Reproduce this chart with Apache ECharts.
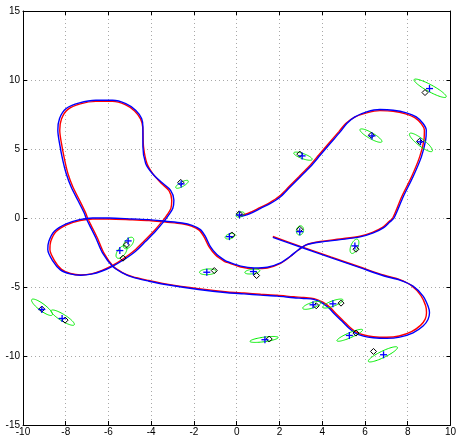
<!DOCTYPE html>
<html>
<head>
<meta charset="utf-8">
<script src="https://cdn.jsdelivr.net/npm/echarts@6/dist/echarts.min.js"></script>
<style>html,body{margin:0;padding:0;background:#fff;}#c{width:459px;height:437px;}</style>
</head>
<body>
<div id="c"></div>
<script>
// Estimated trajectory (blue)
var blueTrack = [[1.69,-1.40],[2.98,-2.10],[4.40,-2.87],[5.77,-3.60],[6.90,-4.20],[7.63,-4.50],[8.25,-4.94],[8.72,-5.66],[8.95,-6.38],[9.02,-6.87],[8.95,-7.35],[8.72,-7.83],[8.25,-8.32],[7.63,-8.63],[7.01,-8.72],[6.39,-8.68],[5.93,-8.56],[5.53,-8.32],[5.23,-7.95],[4.92,-7.47],[4.60,-6.99],[4.30,-6.51],[3.99,-6.15],[3.60,-5.90],[3.13,-5.83],[2.67,-5.78],[1.89,-5.66],[1.12,-5.59],[0.34,-5.50],[-0.43,-5.42],[-1.78,-5.18],[-3.33,-4.82],[-4.10,-4.58],[-4.88,-4.29],[-5.35,-3.98],[-5.81,-3.50],[-6.28,-2.53],[-6.59,-1.45],[-6.90,-0.48],[-7.05,0.0],[-7.13,0.34],[-7.44,1.30],[-7.75,2.27],[-7.98,3.23],[-8.14,4.19],[-8.29,5.40],[-8.37,6.36],[-8.29,7.21],[-7.98,7.93],[-7.36,8.34],[-6.59,8.53],[-5.81,8.53],[-5.19,8.29],[-4.73,7.81],[-4.45,7.21],[-4.39,6.60],[-4.39,5.16],[-4.26,3.95],[-3.95,3.23],[-3.49,2.55],[-3.10,2.02],[-2.94,1.30],[-2.99,0.70],[-3.18,0.22],[-3.33,-0.10],[-3.80,-0.96],[-4.26,-1.69],[-4.73,-2.41],[-5.27,-3.01],[-5.81,-3.50],[-6.30,-3.84],[-6.80,-4.07],[-7.30,-4.15],[-7.80,-4.05],[-8.25,-3.76],[-8.60,-3.13],[-8.84,-2.29],[-8.79,-1.69],[-8.53,-0.96],[-7.98,-0.43],[-7.36,-0.12],[-6.74,0.0],[-5.97,0.0],[-4.88,-0.07],[-4.10,-0.12],[-3.33,-0.24],[-2.56,-0.36],[-2.09,-0.53],[-1.70,-0.84],[-1.47,-1.33],[-1.24,-2.05],[-0.93,-2.65],[-0.54,-3.09],[-0.42,-3.17],[0.19,-3.49],[0.81,-3.62],[1.43,-3.57],[2.05,-3.25],[2.51,-2.77],[2.90,-2.29],[3.29,-1.93],[3.91,-1.74],[4.84,-1.57],[5.77,-1.37],[6.39,-1.08],[6.86,-0.72],[7.16,-0.29],[7.36,0.0],[7.79,1.54],[8.25,2.99],[8.64,4.43],[8.84,5.64],[8.87,6.36],[8.72,6.85],[8.40,7.33],[7.94,7.62],[7.32,7.81],[6.70,7.86],[6.08,7.69],[5.53,7.33],[5.15,6.85],[4.84,6.24],[4.37,5.40],[3.91,4.56],[3.44,3.71],[2.98,2.99],[2.51,2.26],[2.05,1.54],[1.58,1.06],[1.12,0.70],[0.65,0.34],[0.19,0.10]];

// True trajectory (red)
var redTrack = [[1.69,-1.34],[2.98,-2.05],[4.40,-2.82],[5.77,-3.55],[6.90,-4.15],[7.60,-4.45],[8.18,-4.90],[8.62,-5.62],[8.84,-6.36],[8.88,-6.87],[8.82,-7.33],[8.60,-7.78],[8.18,-8.24],[7.60,-8.55],[7.01,-8.64],[6.39,-8.60],[5.95,-8.48],[5.57,-8.25],[5.28,-7.90],[4.97,-7.42],[4.65,-6.94],[4.35,-6.46],[4.03,-6.10],[3.62,-5.84],[3.13,-5.76],[2.67,-5.71],[1.89,-5.60],[1.12,-5.53],[0.34,-5.44],[-0.43,-5.36],[-1.78,-5.12],[-3.33,-4.77],[-4.10,-4.53],[-4.88,-4.25],[-5.35,-3.95],[-5.78,-3.50],[-6.22,-2.53],[-6.52,-1.45],[-6.83,-0.48],[-6.98,0.0],[-7.06,0.34],[-7.36,1.30],[-7.67,2.27],[-7.90,3.23],[-8.05,4.19],[-8.20,5.40],[-8.28,6.36],[-8.20,7.18],[-7.90,7.87],[-7.32,8.27],[-6.59,8.45],[-5.81,8.45],[-5.22,8.22],[-4.78,7.76],[-4.50,7.18],[-4.40,6.60],[-4.36,5.16],[-4.20,3.95],[-3.92,3.20],[-3.52,2.50],[-3.17,1.98],[-3.04,1.30],[-3.08,0.70],[-3.26,0.22],[-3.40,-0.08],[-3.86,-0.92],[-4.32,-1.64],[-4.79,-2.36],[-5.31,-2.96],[-5.81,-3.44],[-6.30,-3.80],[-6.80,-4.05],[-7.30,-4.13],[-7.78,-4.02],[-8.20,-3.72],[-8.52,-3.10],[-8.74,-2.29],[-8.70,-1.69],[-8.45,-0.98],[-7.93,-0.48],[-7.33,-0.18],[-6.74,-0.07],[-5.97,-0.07],[-4.88,-0.13],[-4.10,-0.18],[-3.33,-0.30],[-2.56,-0.42],[-2.12,-0.59],[-1.76,-0.88],[-1.53,-1.36],[-1.30,-2.07],[-0.98,-2.70],[-0.56,-3.16],[-0.45,-3.22],[0.19,-3.55],[0.81,-3.67],[1.43,-3.62],[2.05,-3.28],[2.51,-2.79],[2.90,-2.30],[3.29,-1.92],[3.91,-1.70],[4.84,-1.52],[5.77,-1.32],[6.35,-1.04],[6.80,-0.70],[7.10,-0.29],[7.30,0.0],[7.72,1.54],[8.18,2.99],[8.56,4.43],[8.76,5.64],[8.78,6.36],[8.64,6.82],[8.33,7.27],[7.90,7.55],[7.32,7.74],[6.70,7.78],[6.08,7.62],[5.50,7.30],[5.10,6.85],[4.78,6.26],[4.31,5.42],[3.85,4.58],[3.38,3.73],[2.92,3.01],[2.45,2.28],[1.99,1.57],[1.53,1.10],[1.08,0.75],[0.62,0.40],[0.17,0.16]];

// Landmark uncertainty ellipses: [centerX, centerY, majorHalfDx, majorHalfDy, minor/major ratio]
var ellipses = [[-2.56,2.44,0.29,0.25,0.32],[0.16,0.25,0.19,0.11,0.53],[3.10,4.48,0.43,-0.24,0.26],[6.28,5.97,0.51,-0.45,0.24],[8.62,5.48,0.53,-0.64,0.25],[9.05,9.40,0.75,-0.63,0.19],[-9.11,-6.47,0.48,-0.56,0.27],[-8.14,-7.22,0.54,-0.52,0.24],[-5.39,-2.46,0.21,0.43,0.53],[-5.06,-1.81,0.20,0.38,0.55],[-1.35,-3.90,0.39,0.04,0.34],[-0.31,-1.32,0.23,0.11,0.48],[2.96,-0.90,0.05,0.33,0.76],[5.51,-2.05,0.14,0.51,0.46],[0.73,-3.88,0.35,0.07,0.30],[3.52,-6.33,0.43,0.22,0.28],[4.50,-6.20,0.47,0.27,0.25],[1.28,-8.80,0.66,0.14,0.16],[5.29,-8.50,0.60,0.40,0.18],[6.84,-9.88,0.68,0.51,0.20]];

// Estimated landmarks (blue +)
var estLandmarks = [[-2.60,2.47],[0.13,0.22],[3.06,4.50],[6.33,5.95],[8.60,5.52],[9.02,9.38],[-9.12,-6.63],[-8.17,-7.28],[-5.47,-2.36],[-5.08,-1.66],[-1.40,-3.93],[-0.34,-1.35],[2.95,-0.99],[5.53,-2.02],[0.78,-3.88],[3.57,-6.29],[4.50,-6.22],[1.32,-8.82],[5.27,-8.51],[6.87,-9.91]];

// True landmarks (black diamonds)
var trueLandmarks = [[-2.62,2.58],[0.12,0.30],[2.95,4.63],[6.30,6.00],[8.55,5.55],[8.81,9.09],[-9.12,-6.60],[-8.03,-7.40],[-5.32,-2.91],[-5.16,-1.95],[-1.05,-3.81],[-0.23,-1.23],[2.95,-0.82],[5.58,-2.26],[0.93,-4.17],[3.72,-6.36],[4.88,-6.17],[1.52,-8.77],[5.58,-8.34],[6.40,-9.67]];

var chart = echarts.init(document.getElementById('c'), null, {renderer: 'canvas'});

var font = 'Liberation Sans, Helvetica, Arial, sans-serif';
function xAx(pos, labels) {
  return {
    type: 'value', min: -10, max: 10, interval: 2, position: pos,
    axisLine: {show: true, onZero: false, lineStyle: {color: '#000', width: 1}},
    axisTick: {show: true, inside: true, length: 4, lineStyle: {color: '#000'}},
    axisLabel: {show: labels, color: '#000', fontSize: 10, margin: 2, fontFamily: font},
    splitLine: {show: labels, lineStyle: {color: '#a8a8a8', type: [1, 3], width: 1}}
  };
}
function yAx(pos, labels) {
  return {
    type: 'value', min: -15, max: 15, interval: 5, position: pos,
    axisLine: {show: true, onZero: false, lineStyle: {color: '#000', width: 1}},
    axisTick: {show: true, inside: true, length: 4, lineStyle: {color: '#000'}},
    axisLabel: {show: labels, color: '#000', fontSize: 10, margin: 3, fontFamily: font},
    splitLine: {show: labels, lineStyle: {color: '#a8a8a8', type: [1, 3], width: 1}}
  };
}

function ellipseItem(params, api) {
  var c = api.coord([api.value(0), api.value(1)]);
  var e = api.coord([api.value(0) + api.value(2), api.value(1) + api.value(3)]);
  var ux = e[0] - c[0], uy = e[1] - c[1];
  var r = api.value(4);
  var vx = -uy * r, vy = ux * r;
  var pts = [];
  for (var i = 0; i < 64; i++) {
    var t = i / 64 * Math.PI * 2;
    pts.push([c[0] + ux * Math.cos(t) + vx * Math.sin(t), c[1] + uy * Math.cos(t) + vy * Math.sin(t)]);
  }
  return {type: 'polygon', shape: {points: pts}, style: {fill: 'none', stroke: '#00ee00', lineWidth: 1}};
}
function plusItem(params, api) {
  var c = api.coord([api.value(0), api.value(1)]);
  var s = 3.5;
  var st = {stroke: '#0000ff', lineWidth: 1.3};
  return {type: 'group', children: [
    {type: 'line', shape: {x1: c[0] - s, y1: c[1], x2: c[0] + s, y2: c[1]}, style: st},
    {type: 'line', shape: {x1: c[0], y1: c[1] - s, x2: c[0], y2: c[1] + s}, style: st}
  ]};
}
function diamondItem(params, api) {
  var c = api.coord([api.value(0), api.value(1)]);
  var s = 3;
  return {type: 'polygon', shape: {points: [[c[0], c[1] - s], [c[0] + s, c[1]], [c[0], c[1] + s], [c[0] - s, c[1]]]},
    style: {fill: 'none', stroke: '#000', lineWidth: 1}};
}

chart.setOption({
  animation: false,
  backgroundColor: '#fff',
  grid: {left: 23, right: 6, top: 11, bottom: 11},
  xAxis: [xAx('bottom', true), xAx('top', false)],
  yAxis: [yAx('left', true), yAx('right', false)],
  series: [
    {type: 'line', data: redTrack, showSymbol: false, smooth: 0.3, lineStyle: {color: '#ff0000', width: 1.4}, z: 2},
    {type: 'line', data: blueTrack, showSymbol: false, smooth: 0.3, lineStyle: {color: '#0000ff', width: 1.4}, z: 3},
    {type: 'custom', data: ellipses, renderItem: ellipseItem, z: 4},
    {type: 'custom', data: trueLandmarks, renderItem: diamondItem, z: 5},
    {type: 'custom', data: estLandmarks, renderItem: plusItem, z: 6}
  ]
});
</script>
</body>
</html>
